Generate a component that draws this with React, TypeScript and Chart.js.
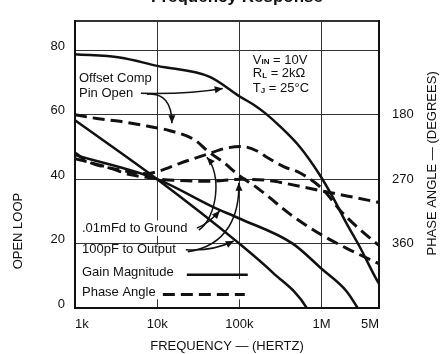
import React, { useEffect, useRef } from 'react';
import { Chart, registerables } from 'chart.js';

Chart.register(...registerables);

const FONT = '"Liberation Sans", Arial, Helvetica, sans-serif';

// ---- axes ----
const xTickValues = [1000, 10000, 100000, 1000000, 5000000];
const xTickLabels = ['1k', '10k', '100k', '1M', '5M'];
const gainTickValues = [0, 20, 40, 60, 80];
const phaseTickValues = [180, 270, 360];
const xMin = 1000;
const xMax = 5000000;
const gainMin = 0;
const gainMax = 89.2;
const phaseAtGainMax = 48.6;
const phaseAtGainMin = 450;

// ---- Offset Comp Pin Open ----
const pinOpenGainFreq = [1000, 3500, 10000, 43600, 101000, 154000, 204000, 310000, 542000, 948000, 1365000, 2020000, 2900000, 4680000, 5000000];
const pinOpenGainDb = [78.8, 77.8, 75.2, 71.8, 65.7, 62.9, 60.6, 56.5, 50.1, 41.4, 34.5, 26.2, 19.1, 8.8, 7.6];
const pinOpenPhaseFreq = [1000, 1850, 3520, 7500, 14300, 28700, 41300, 66500, 95700, 154000, 221000, 409000, 948000, 2020000, 4680000, 5000000];
const pinOpenPhaseDeg = [180, 185.2, 189.1, 195.7, 202.2, 215.2, 230.9, 247.8, 263.5, 279.7, 293.5, 318.5, 346.2, 366.6, 386.5, 388];

// ---- .01mFd to Ground ----
const groundGainFreq = [1000, 10000, 47500, 100000, 446000, 1000000, 2000000, 2750000, 2900000];
const groundGainDb = [47.5, 40, 31.4, 27.8, 20, 12.2, 5.3, 0, -1];
const groundPhaseFreq = [1000, 1520, 3520, 7500, 10800, 18900, 41300, 66500, 107000, 167000, 221000, 356000, 542000, 1030000, 1750000, 4680000, 5000000];
const groundPhaseDeg = [233.5, 246.5, 257, 262.2, 258.3, 247.8, 234.8, 227, 224.3, 230.9, 240, 253, 260.9, 283.8, 315.7, 360, 362.6];

// ---- 100pF to Output ----
const outputGainFreq = [1000, 10000, 100000, 255000, 660000, 700000];
const outputGainDb = [58.3, 40, 20, 11, 0, -1.5];
const outputPhaseFreq = [1000, 2450, 4660, 7500, 10800, 41300, 107000, 269000, 310000, 1030000, 4680000, 5000000];
const outputPhaseDeg = [241.3, 253, 263.5, 267.4, 270, 272.8, 270, 272.8, 274.2, 286.6, 301.8, 302.5];

const zip = (xs: number[], ys: number[]) => xs.map((x, i) => ({ x, y: ys[i] }));

// ---- annotation layout (data units: frequency, dB) ----
const annotationTexts = [
  { text: 'Offset Comp', f: 1118, db: 71.2 },
  { text: 'Pin Open', f: 1118, db: 66.7 },
  { text: '.01mFd to Ground', f: 1216, db: 24.8 },
  { text: '100pF to Output', f: 1216, db: 18.1 },
  { text: 'Gain Magnitude', f: 1216, db: 11.2 },
  { text: 'Phase Angle', f: 1216, db: 4.8 },
];
const conditionTexts = [
  { main: 'V', sub: 'IN', rest: ' = 10V', f: 145600, db: 77.0 },
  { main: 'R', sub: 'L', rest: ' = 2kΩ', f: 145600, db: 72.8 },
  { main: 'T', sub: 'J', rest: ' = 25°C', f: 145600, db: 68.2 },
];
const legendSolid = { f1: 22960, f2: 126500, db: 10.3 };
const legendDashed = { f1: 11720, f2: 116400, db: 4.2 };
const maskBoxes = [
  { f1: 1057, f2: 90400, db1: 19.6, db2: 2.7 },
  { f1: 90400, f2: 119700, db1: 9.0, db2: 2.7 },
  { f1: 1150, f2: 30300, db1: 27.2, db2: 22.4 },
];
const arrows = [
  [[6340, 66.7], [24950, 66.4], [62800, 68.2]],
  [[7500, 66.4], [15100, 67.0], [15100, 57.4]],
  [[30300, 24.8], [41300, 26.0], [57800, 30.2]],
  [[32100, 24.2], [54700, 28.4], [61100, 41.7], [40200, 46.8]],
  [[22300, 18.1], [46300, 17.5], [85500, 20.8]],
  [[23600, 17.5], [72300, 19.3], [101000, 29.0], [98400, 38.9]],
];

function arrowHead(ctx: CanvasRenderingContext2D, tx: number, ty: number, fx: number, fy: number) {
  const len = 8, half = 3.5;
  const a = Math.atan2(ty - fy, tx - fx);
  const c = Math.cos(a), s = Math.sin(a);
  ctx.beginPath();
  ctx.moveTo(tx, ty);
  ctx.lineTo(tx - len * c + half * s, ty - len * s - half * c);
  ctx.lineTo(tx - len * c - half * s, ty - len * s + half * c);
  ctx.closePath();
  ctx.fill();
}

const annotationPlugin = {
  id: 'annotations',
  beforeDatasetsDraw(chart: any) {
    const { ctx } = chart;
    const x = chart.scales.x, y = chart.scales.y;
    ctx.save();
    ctx.fillStyle = '#ffffff';
    for (const b of maskBoxes) {
      const x1 = x.getPixelForValue(b.f1), x2 = x.getPixelForValue(b.f2);
      const y1 = y.getPixelForValue(b.db1), y2 = y.getPixelForValue(b.db2);
      ctx.fillRect(x1, y1, x2 - x1, y2 - y1);
    }
    ctx.restore();
  },
  afterDatasetsDraw(chart: any) {
    const { ctx } = chart;
    const x = chart.scales.x, y = chart.scales.y;
    ctx.save();
    ctx.fillStyle = '#111';
    ctx.strokeStyle = '#111';
    ctx.textBaseline = 'middle';
    ctx.textAlign = 'left';
    ctx.font = `13px ${FONT}`;
    for (const t of annotationTexts) {
      ctx.fillText(t.text, x.getPixelForValue(t.f), y.getPixelForValue(t.db));
    }
    for (const c of conditionTexts) {
      let px = x.getPixelForValue(c.f);
      const py = y.getPixelForValue(c.db);
      ctx.font = `13px ${FONT}`;
      ctx.fillText(c.main, px, py);
      px += ctx.measureText(c.main).width;
      ctx.font = `bold 8px ${FONT}`;
      ctx.fillText(c.sub, px, py + 2);
      px += ctx.measureText(c.sub).width;
      ctx.font = `13px ${FONT}`;
      ctx.fillText(c.rest, px, py);
    }
    // legend samples
    ctx.lineWidth = 2.5;
    ctx.beginPath();
    ctx.moveTo(x.getPixelForValue(legendSolid.f1), y.getPixelForValue(legendSolid.db));
    ctx.lineTo(x.getPixelForValue(legendSolid.f2), y.getPixelForValue(legendSolid.db));
    ctx.stroke();
    ctx.lineWidth = 3;
    ctx.setLineDash([12, 6]);
    ctx.beginPath();
    ctx.moveTo(x.getPixelForValue(legendDashed.f1), y.getPixelForValue(legendDashed.db));
    ctx.lineTo(x.getPixelForValue(legendDashed.f2), y.getPixelForValue(legendDashed.db));
    ctx.stroke();
    ctx.setLineDash([]);
    // arrows
    ctx.lineWidth = 1.5;
    for (const a of arrows) {
      const p = a.map(([f, d]) => [x.getPixelForValue(f), y.getPixelForValue(d)]);
      ctx.beginPath();
      ctx.moveTo(p[0][0], p[0][1]);
      if (p.length === 3) ctx.quadraticCurveTo(p[1][0], p[1][1], p[2][0], p[2][1]);
      else ctx.bezierCurveTo(p[1][0], p[1][1], p[2][0], p[2][1], p[3][0], p[3][1]);
      ctx.stroke();
      const n = p.length;
      arrowHead(ctx, p[n - 1][0], p[n - 1][1], p[n - 2][0], p[n - 2][1]);
    }
    ctx.restore();
  },
  afterDraw(chart: any) {
    const { ctx, chartArea } = chart;
    const y = chart.scales.y;
    ctx.save();
    ctx.fillStyle = '#111';
    ctx.font = `13px ${FONT}`;
    ctx.textAlign = 'center';
    ctx.textBaseline = 'middle';
    // left axis title
    ctx.save();
    ctx.translate(18, y.getPixelForValue(23.9));
    ctx.rotate(-Math.PI / 2);
    ctx.fillText('OPEN LOOP', 0, 0);
    ctx.restore();
    // right axis title
    ctx.save();
    ctx.translate(chart.width - 8, (chartArea.top + chartArea.bottom) / 2 - 1);
    ctx.rotate(-Math.PI / 2);
    ctx.fillText('PHASE ANGLE — (DEGREES)', 0, 0);
    ctx.restore();
    // chart title, cropped by the top edge as in the original scan
    ctx.font = `bold 17px ${FONT}`;
    ctx.textBaseline = 'alphabetic';
    ctx.fillText('Frequency Response', (chartArea.left + chartArea.right) / 2 + 10, 1.5);
    ctx.restore();
  },
};

const solid = { borderColor: '#111', borderWidth: 2.5, pointRadius: 0, fill: false, cubicInterpolationMode: 'monotone', clip: 0 };
const dashed = { ...solid, borderWidth: 3, borderDash: [12, 6] };

export default function App() {
  const ref = useRef<HTMLCanvasElement>(null);
  useEffect(() => {
    const canvas = ref.current;
    if (!canvas) return;
    const tickFont = { size: 13, family: FONT };
    const chart = new Chart(canvas, {
      type: 'line',
      data: {
        datasets: [
          { label: 'Pin open gain', data: zip(pinOpenGainFreq, pinOpenGainDb), yAxisID: 'y', ...solid },
          { label: 'Pin open phase', data: zip(pinOpenPhaseFreq, pinOpenPhaseDeg), yAxisID: 'yPhase', ...dashed },
          { label: '.01mFd gain', data: zip(groundGainFreq, groundGainDb), yAxisID: 'y', ...solid },
          { label: '.01mFd phase', data: zip(groundPhaseFreq, groundPhaseDeg), yAxisID: 'yPhase', ...dashed },
          { label: '100pF gain', data: zip(outputGainFreq, outputGainDb), yAxisID: 'y', ...solid },
          { label: '100pF phase', data: zip(outputPhaseFreq, outputPhaseDeg), yAxisID: 'yPhase', ...dashed },
        ] as any,
      },
      options: {
        animation: false,
        responsive: false,
        devicePixelRatio: 1,
        layout: { padding: { top: 12, left: 0, right: 0, bottom: 0 } },
        plugins: { legend: { display: false }, tooltip: { enabled: false }, title: { display: false } },
        scales: {
          x: {
            type: 'logarithmic',
            min: xMin,
            max: xMax,
            afterBuildTicks: (s: any) => { s.ticks = xTickValues.map((v) => ({ value: v })); },
            afterFit: (s: any) => { s.height = 46; },
            ticks: {
              callback: (_v: any, i: number) => xTickLabels[i] ?? '',
              align: 'inner',
              padding: 9,
              color: '#111',
              font: tickFont,
              maxRotation: 0,
              autoSkip: false,
            },
            grid: { color: '#333', lineWidth: 1, drawTicks: false },
            border: { color: '#111', width: 2 },
            title: { display: true, text: 'FREQUENCY — (HERTZ)', color: '#111', font: tickFont, padding: { top: 0, bottom: 0 } },
          },
          y: {
            type: 'linear',
            position: 'left',
            min: gainMin,
            max: gainMax,
            afterBuildTicks: (s: any) => { s.ticks = [...gainTickValues, gainMax].map((v) => ({ value: v })); },
            afterFit: (s: any) => { s.width = 75; },
            ticks: {
              callback: (v: any) => (gainTickValues.includes(v) ? String(v) : ''),
              padding: 10,
              labelOffset: -4,
              color: '#111',
              font: tickFont,
            },
            grid: {
              color: '#333',
              lineWidth: (c: any) => (c.tick && c.tick.value === gainMax ? 2 : 1),
              drawTicks: false,
            },
            border: { color: '#111', width: 2 },
          },
          yPhase: {
            type: 'linear',
            position: 'right',
            min: phaseAtGainMax,
            max: phaseAtGainMin,
            reverse: true,
            afterBuildTicks: (s: any) => { s.ticks = phaseTickValues.map((v) => ({ value: v })); },
            afterFit: (s: any) => { s.width = 61; },
            ticks: { padding: 13, color: '#111', font: tickFont },
            grid: { display: false, drawTicks: false },
            border: { display: true, color: '#111', width: 2 },
          },
        },
      } as any,
      plugins: [annotationPlugin],
    });
    return () => chart.destroy();
  }, []);
  return (
    <div style={{ position: 'absolute', left: 0, top: 0, width: 440, height: 354, background: '#fff' }}>
      <canvas ref={ref} width={440} height={354} style={{ display: 'block', width: 440, height: 354 }} />
    </div>
  );
}
